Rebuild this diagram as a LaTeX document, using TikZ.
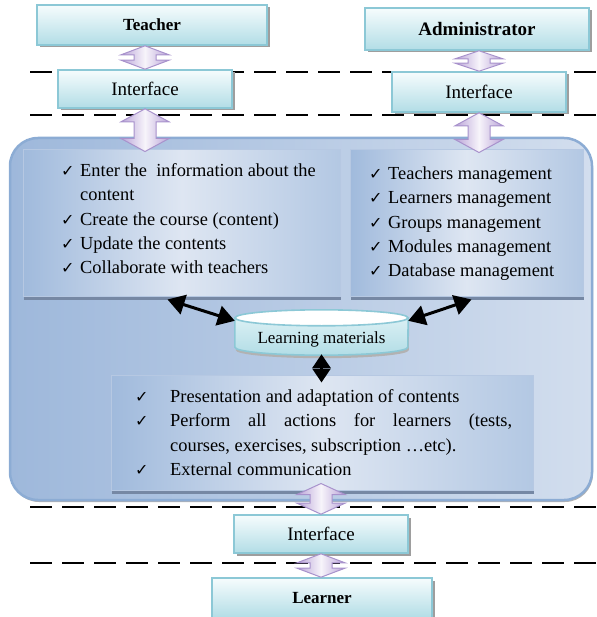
\documentclass[tikz,border=0pt]{standalone}
\usepackage{fontspec}
\setmainfont{Liberation Serif}
\newfontfamily\ckfont{DejaVu Sans}
\usetikzlibrary{shadows,calc,arrows.meta}
\definecolor{lblborder}{RGB}{140,200,214}
\definecolor{lbltop}{RGB}{246,252,253}
\definecolor{lblbot}{RGB}{178,221,230}
\definecolor{bigdark}{RGB}{158,184,219}
\definecolor{biglight}{RGB}{216,226,240}
\definecolor{bigborder}{RGB}{140,172,212}
\definecolor{innerborder}{RGB}{182,200,226}
\definecolor{innershadow}{RGB}{118,136,164}
\definecolor{innerdark}{RGB}{160,186,220}
\definecolor{innerlight}{RGB}{222,230,242}
\definecolor{arrowc}{RGB}{186,164,216}
\definecolor{arrowline}{RGB}{168,146,204}
\newcommand\ck{{\ckfont\fontsize{16}{16}\selectfont\char"2713}}
\newcommand\blockarr[3][12]{%
  \path[blockarrow] (#2) -- ($(#2)+(24,#1)$) -- ($(#2)+(11,#1)$) -- ($(#3)+(11,-#1)$)
    -- ($(#3)+(24,-#1)$) -- (#3) -- ($(#3)+(-24,-#1)$) -- ($(#3)+(-11,-#1)$)
    -- ($(#2)+(-11,#1)$) -- ($(#2)+(-24,#1)$) -- cycle;}
\begin{document}
\begin{tikzpicture}[x=1pt,y=-1pt,
  lbl/.style={draw=lblborder, line width=1.6pt, top color=lbltop, bottom color=lblbot,
    drop shadow={shadow xshift=2.5pt,shadow yshift=-2.5pt,fill=black!38,opacity=1},
    inner sep=0pt, font=\fontsize{19}{22}\selectfont},
  bigbox/.style={draw=bigborder, line width=2.5pt, rounded corners=28pt,
    left color=bigdark, right color=biglight!90!bigdark,
    drop shadow={shadow xshift=1pt,shadow yshift=-2pt,fill=black!30,opacity=1}},
  innerbox/.style={draw=innerborder, line width=1pt, shading angle=60,
    left color=innerdark, right color=innerdark!80!white, middle color=innerlight,
    drop shadow={shadow xshift=1pt,shadow yshift=-3.5pt,fill=innershadow,opacity=1}},
  listtext/.style={inner sep=0pt, align=left, font=\fontsize{18.4}{24.3}\selectfont},
  blockarrow/.style={draw=arrowline, line width=1pt, left color=arrowc, right color=arrowc, middle color=white!88!arrowc},
  dashline/.style={line width=2.8pt, dash pattern=on 22pt off 10pt},
  bigarrow/.style={line width=3pt, {Triangle[length=17pt,width=20pt]}-{Triangle[length=17pt,width=20pt]}},
  cylfill/.style={draw=lblborder, line width=1.6pt, top color=lbltop!60!lblbot, bottom color=lblbot},
]
\useasboundingbox (0,0) rectangle (596,617);

% dashed separators
\draw[dashline] (30,72) -- (596,72);
\draw[dashline] (30,115) -- (596,115);
\draw[dashline] (30,507) -- (596,507);
\draw[dashline] (30,563) -- (596,563);

% top boxes
\node[lbl, minimum width=230pt, minimum height=40pt] (teacher) at (152,25) {\fontsize{17}{20}\selectfont\bfseries Teacher};
\node[lbl, minimum width=224pt, minimum height=42pt] (admin) at (477,29) {\bfseries Administrator};
\node[lbl, minimum width=174pt, minimum height=38pt] (ifl) at (145,89) {Interface};
\node[lbl, minimum width=174pt, minimum height=40pt] (ifr) at (479,92) {Interface};

% main container
\node[bigbox, minimum width=582pt, minimum height=362pt] (main) at (301,319) {};
\node[innerbox, minimum width=317pt, minimum height=146pt] (lbox) at (181.5,223) {};
\node[innerbox, minimum width=233pt, minimum height=146pt] (rbox) at (466.5,223) {};
\node[innerbox, minimum width=422pt, minimum height=115pt] (bbox) at (322,432.5) {};

\node[listtext, anchor=north west] (ltxt) at (61,163.5) {%
\makebox[19pt][l]{\ck}Enter the\ \ information about the\\
\hspace*{19pt}content\\
\makebox[19pt][l]{\ck}Create the course (content)\\
\makebox[19pt][l]{\ck}Update the contents\\
\makebox[19pt][l]{\ck}Collaborate with teachers};

\node[listtext, anchor=north west] (rtxt) at (369,166.5) {%
\makebox[19pt][l]{\ck}Teachers management\\
\makebox[19pt][l]{\ck}Learners management\\
\makebox[19pt][l]{\ck}Groups management\\
\makebox[19pt][l]{\ck}Modules management\\
\makebox[19pt][l]{\ck}Database management};

\node[listtext, anchor=north west] (btxt) at (135,389.5) {%
\makebox[35pt][l]{\ck}Presentation and adaptation of contents\\
\makebox[35pt][l]{\ck}\makebox[342pt][s]{Perform all actions for learners (tests,}\\
\hspace*{35pt}courses, exercises, subscription \dots etc).\\
\makebox[35pt][l]{\ck}External communication};

% learning materials cylinder
\node[inner sep=0pt, minimum width=173pt, minimum height=45pt] (lm) at (321.5,332.5) {};
\path[cylfill, drop shadow={shadow xshift=1pt,shadow yshift=-3pt,fill=black!30,opacity=1}]
  ($(lm.north west)+(0,8)$) -- ($(lm.south west)+(0,-8)$)
  arc[start angle=180,end angle=360,x radius=86.5pt,y radius=8pt]
  -- ($(lm.north east)+(0,8)$) -- cycle;
\draw[draw=lblborder, line width=1.6pt, fill=white] ($(lm.north)+(0,8)$) ellipse[x radius=86.5pt, y radius=8pt];
\node[inner sep=0pt, font=\fontsize{17}{20}\selectfont] (lmtxt) at ($(lm.center)+(0,7)$) {Learning materials};

% black arrows
\draw[bigarrow] ([xshift=145pt,yshift=-3pt]lbox.south west) -- ([yshift=-11pt]lm.north west);
\draw[bigarrow] ([yshift=-11pt]lm.north east) -- ([xshift=122pt,yshift=-3pt]rbox.south west);
\draw[line width=3pt, {Triangle[length=14pt,width=18pt]}-{Triangle[length=14pt,width=18pt]}] ([yshift=1pt]lm.south) -- ([yshift=-8pt]lm.south |- bbox.north);

% bottom boxes
\node[lbl, minimum width=174pt, minimum height=38pt] (ifb) at (321,534) {Interface};
\node[lbl, minimum width=220pt, minimum height=40pt] (learner) at (322,598) {\fontsize{17}{20}\selectfont\bfseries Learner};

% block arrows
\coordinate (a1) at (teacher.south -| ifl.north);
\coordinate (a2) at (admin.south -| ifr.north);
\coordinate (a3) at ([yshift=-2pt]ifl.south |- lbox.north);
\coordinate (a4) at ([yshift=-3pt]ifr.south |- rbox.north);
\coordinate (a5) at ([yshift=7pt]bbox.south -| ifb.north);
\coordinate (a6) at (ifb.south |- learner.north);
\blockarr[9]{a1}{ifl.north}
\blockarr[8]{a2}{ifr.north}
\blockarr[13]{ifl.south}{a3}
\blockarr[13]{ifr.south}{a4}
\blockarr[11]{a5}{ifb.north}
\blockarr[9]{ifb.south}{a6}
\end{tikzpicture}
\end{document}
